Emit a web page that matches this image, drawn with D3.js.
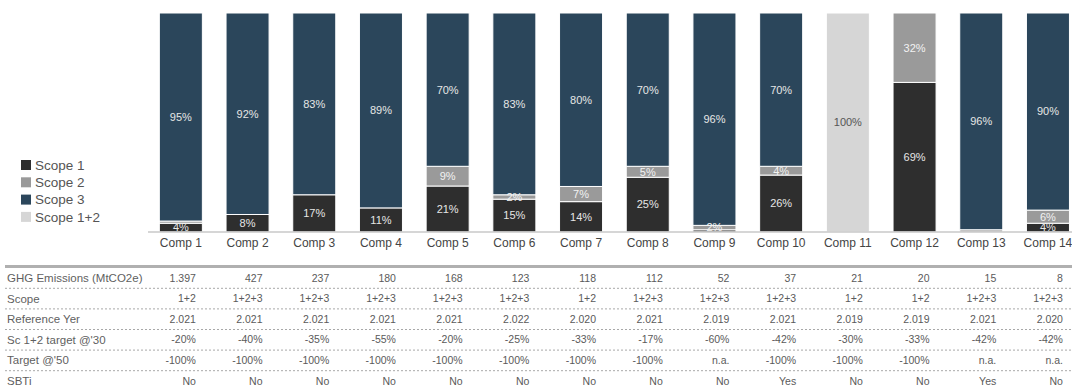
<!DOCTYPE html>
<html>
<head>
<meta charset="utf-8">
<script src="https://cdn.jsdelivr.net/npm/d3@7"></script>
<style>
  html, body { margin: 0; padding: 0; background: #fff; }
  svg { display: block; font-family: "Liberation Sans", Arial, sans-serif; }
</style>
</head>
<body>
<svg id="chart" width="1072" height="388"></svg>
<script>
// Companies and emission split (% of total) by scope
const companies = ["Comp 1", "Comp 2", "Comp 3", "Comp 4", "Comp 5", "Comp 6", "Comp 7",
                   "Comp 8", "Comp 9", "Comp 10", "Comp 11", "Comp 12", "Comp 13", "Comp 14"];
const scope1  = [4, 8, 17, 11, 21, 15, 14, 25, 1, 26, 0, 69, 0, 4];
const scope2  = [1, 0, 0, 0, 9, 2, 7, 5, 2, 4, 0, 32, 1, 6];
const scope3  = [95, 92, 83, 89, 70, 83, 80, 70, 96, 70, 0, 0, 96, 90];
const scope12 = [0, 0, 0, 0, 0, 0, 0, 0, 0, 0, 100, 0, 0, 0];

const seriesNames = ["Scope 1", "Scope 2", "Scope 3", "Scope 1+2"];
const seriesColors = ["#2e2e2e", "#9a9a9a", "#2b465b", "#d6d6d6"];
const labelColors = ["#e6e6e6", "#f2f2f2", "#e6e6e6", "#555555"];

// Table rows below the chart
const rowLabels = ["GHG Emissions (MtCO2e)", "Scope", "Reference Yer", "Sc 1+2 target @'30", "Target @'50", "SBTi"];
const ghgEmissions = ["1.397", "427", "237", "180", "168", "123", "118", "112", "52", "37", "21", "20", "15", "8"];
const scopeCovered = ["1+2", "1+2+3", "1+2+3", "1+2+3", "1+2+3", "1+2+3", "1+2", "1+2+3", "1+2+3", "1+2+3", "1+2", "1+2", "1+2+3", "1+2+3"];
const referenceYear = ["2.021", "2.021", "2.021", "2.021", "2.021", "2.022", "2.020", "2.021", "2.019", "2.021", "2.019", "2.019", "2.021", "2.020"];
const target2030 = ["-20%", "-40%", "-35%", "-55%", "-20%", "-25%", "-33%", "-17%", "-60%", "-42%", "-30%", "-33%", "-42%", "-42%"];
const target2050 = ["-100%", "-100%", "-100%", "-100%", "-100%", "-100%", "-100%", "-100%", "n.a.", "-100%", "-100%", "-100%", "n.a.", "n.a."];
const sbti = ["No", "No", "No", "No", "No", "No", "No", "No", "No", "Yes", "No", "No", "Yes", "No"];

const tableRows = [ghgEmissions, scopeCovered, referenceYear, target2030, target2050, sbti];

const svg = d3.select("#chart");

const x = d3.scaleBand()
  .domain(companies)
  .range([147.5, 147.5 + 66.7 * companies.length])
  .paddingInner(0.355)
  .paddingOuter(0.1775);

const y = d3.scaleLinear().domain([0, 1]).range([232, 13]);

// Build stacked, 100%-normalised segments
const seriesValues = [scope1, scope2, scope3, scope12];
const stacks = companies.map((c, i) => {
  const vals = seriesValues.map(s => s[i]);
  const total = d3.sum(vals);
  let acc = 0;
  return vals.map((v, k) => {
    const seg = { company: c, key: k, value: v, y0: acc / total, y1: (acc + v) / total };
    acc += v;
    return seg;
  }).filter(d => d.value > 0);
});

const segs = stacks.flat();

const barG = svg.append("g");
barG.selectAll("rect")
  .data(segs)
  .join("rect")
  .attr("x", d => x(d.company))
  .attr("width", x.bandwidth())
  .attr("y", d => y(d.y1))
  .attr("height", d => y(d.y0) - y(d.y1))
  .attr("fill", d => seriesColors[d.key])
  .attr("stroke", "#ffffff")
  .attr("stroke-width", 1);

barG.selectAll("text")
  .data(segs.filter(d => d.value >= 2))
  .join("text")
  .attr("x", d => x(d.company) + x.bandwidth() / 2)
  .attr("y", d => y((d.y0 + d.y1) / 2))
  .attr("dy", "0.35em")
  .attr("text-anchor", "middle")
  .attr("font-size", 11)
  .attr("fill", d => labelColors[d.key])
  .text(d => d.value + "%");

// Category axis
const xAxis = svg.append("g")
  .attr("transform", "translate(0,232)")
  .call(d3.axisBottom(x).tickSize(0).tickPadding(6));
xAxis.select(".domain").attr("stroke", "#c8c8c8").attr("stroke-width", 1.5)
  .attr("d", "M148,0H1072");
xAxis.selectAll("text")
  .attr("font-family", "'Liberation Sans', Arial, sans-serif")
  .attr("font-size", 12)
  .attr("fill", "#444");

// Legend
const legend = svg.append("g").attr("transform", "translate(21,160)");
seriesNames.forEach((name, k) => {
  const g = legend.append("g").attr("transform", `translate(0,${k * 17.3})`);
  g.append("rect").attr("width", 10).attr("height", 10).attr("fill", seriesColors[k]);
  g.append("text").attr("x", 14).attr("y", 5).attr("dy", "0.35em")
    .attr("font-size", 13.5).attr("fill", "#555").text(name);
});

// Data table
const table = svg.append("g");
table.append("line")
  .attr("x1", 5).attr("x2", 1072).attr("y1", 266.5).attr("y2", 266.5)
  .attr("stroke", "#b0b0b0").attr("stroke-width", 3);

const rowY = d3.scaleLinear().domain([0, 1]).range([278, 298.6]);

rowLabels.forEach((label, r) => {
  const cy = rowY(r);
  table.append("text")
    .attr("x", 7).attr("y", cy).attr("dy", "0.35em")
    .attr("font-size", 11.5).attr("fill", "#5f5f5f").text(label);
  table.selectAll(null)
    .data(tableRows[r])
    .join("text")
    .attr("x", (d, i) => x(companies[i]) + x.bandwidth() / 2 + 15)
    .attr("y", cy).attr("dy", "0.35em")
    .attr("text-anchor", "end")
    .attr("font-size", 10.5).attr("fill", "#5a5a5a")
    .text(d => d);
  if (r < rowLabels.length - 1) {
    table.append("line")
      .attr("x1", 5).attr("x2", 1072)
      .attr("y1", cy + 10.3).attr("y2", cy + 10.3)
      .attr("stroke", "#a8a8a8").attr("stroke-width", 1)
      .attr("stroke-dasharray", "2,2");
  }
});
</script>
</body>
</html>
